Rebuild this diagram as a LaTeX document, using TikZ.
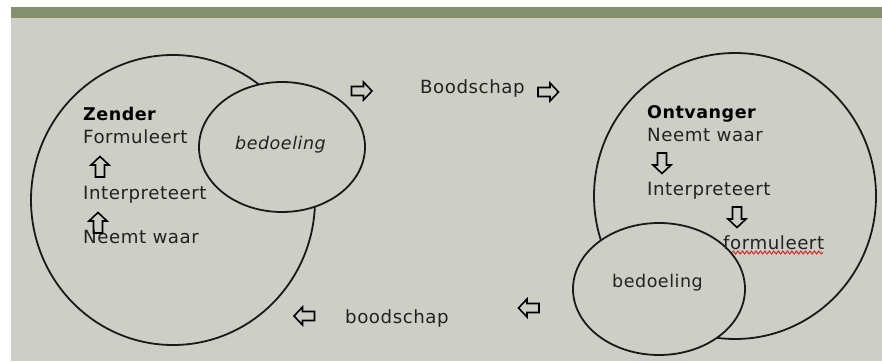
\documentclass[tikz,border=0pt]{standalone}
\usepackage{fontspec}
\setmainfont{DejaVu Sans}[LetterSpace=3]
\usetikzlibrary{decorations.pathmorphing}
\definecolor{bg}{HTML}{CDCEC6}
\definecolor{bar}{HTML}{848F6E}
\definecolor{ink}{HTML}{222222}
\definecolor{wavy}{HTML}{D42A2A}
\tikzset{
  lbl/.style={anchor=base west, inner sep=0pt, text=ink, font=\fontsize{18.2}{20}\selectfont},
  ttl/.style={lbl, text=black, font=\fontsize{17.5}{20}\selectfont\bfseries},
  bubble/.style={line width=1.8pt, draw=black!90, fill=bg},
  barrow/.pic={\draw[line width=1.6pt, line join=miter] (-10,-4.5)--(2,-4.5)--(2,-9)--(10.5,0)--(2,9)--(2,4.5)--(-10,4.5)--cycle;}
}
\begin{document}
\begin{tikzpicture}[x=1pt,y=-1pt]
\useasboundingbox (0,0) rectangle (882,361);
\fill[white] (0,0) rectangle (882,361);
\fill[bg] (11,7) rectangle (882,361);
\fill[bar] (11,7) rectangle (882,18);
% left bubbles
\draw[bubble] (173,200) ellipse [x radius=142, y radius=145];
\draw[bubble] (282,147) ellipse [x radius=83, y radius=65];
% right bubbles
\draw[bubble] (735,196) ellipse [x radius=141, y radius=143];
\draw[bubble] (659,289) ellipse [x radius=86, y radius=66];
% left texts
\node[ttl] (zender) at (83,120) {Zender};
\node[lbl] (lform) at (83,143) {Formuleert};
\node[lbl] (linterp) at (83,199) {Interpreteert};
\node[lbl] (lneemt) at (83,243) {Neemt waar};
\node[lbl, font=\fontsize{17.5}{20}\selectfont\itshape] (lbed) at (235,149) {bedoeling};
% right texts
\node[ttl] (ontv) at (647,118) {Ontvanger};
\node[lbl] (rneemt) at (647,141) {Neemt waar};
\node[lbl] (rinterp) at (647,195) {Interpreteert};
\node[lbl] (rform) at (723,249) {formuleert};
\node[lbl, font=\fontsize{17.5}{20}\selectfont] (rbed) at (612,287) {bedoeling};
% messages
\node[lbl] (bodtop) at (420,93) {Boodschap};
\node[lbl] (bodbot) at (345,323) {boodschap};
% red spelling underline
\draw[wavy, line width=1pt, decorate, decoration={snake, segment length=4.5pt, amplitude=1.5pt}] (732,252.5) -- (823,252.5);
% block arrows
\pic at (361.5,91) {barrow};
\pic at (548,92) {barrow};
\pic[rotate=180] at (304.5,316) {barrow};
\pic[rotate=180] at (529,308) {barrow};
\pic[rotate=90] at (100,167) {barrow};
\pic[rotate=90] at (98,223) {barrow};
\pic[rotate=-90] at (662,163) {barrow};
\pic[rotate=-90] at (737,217) {barrow};
\end{tikzpicture}
\end{document}
